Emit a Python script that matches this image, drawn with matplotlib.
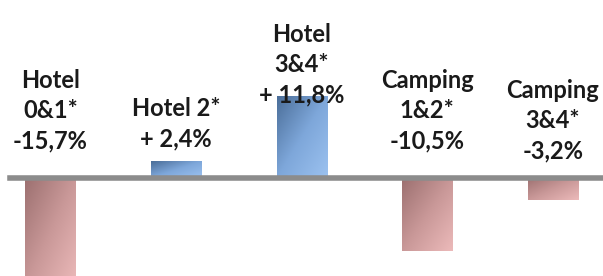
import matplotlib
matplotlib.use("Agg")
import matplotlib.pyplot as plt
import numpy as np
from matplotlib.colors import LinearSegmentedColormap

categories = ["Hotel\n0&1*", "Hotel 2*", "Hotel\n3&4*", "Camping\n1&2*", "Camping\n3&4*"]
values = [-15.7, 2.4, 11.8, -10.5, -3.2]
value_labels = ["-15,7%", "+ 2,4%", "+ 11,8%", "-10,5%", "-3,2%"]
label_bottoms = [3.7, 4.0, 10.3, 3.7, 2.2]  # data-y of label bottom

fig = plt.figure(figsize=(6.03, 2.76), dpi=100)
ax = fig.add_axes([0, 0, 1, 1])
ax.set_xlim(-0.402, 4.399)
ax.set_ylim(-14.1, 25.6)
ax.axis("off")

blue = LinearSegmentedColormap.from_list("b", ["#4a6d98", "#7ea7da", "#9cc2f0"])
red = LinearSegmentedColormap.from_list("r", ["#9c7070", "#c99898", "#ecbaba"])

x = np.arange(len(values))
bars = ax.bar(x, values, width=0.4, color="none", edgecolor="none", zorder=2)
yy, xx = np.mgrid[0:1:100j, 0:1:100j]
grad = (xx + yy) / 2
for b, v in zip(bars, values):
    x0, y0 = b.get_x(), b.get_y()
    w, h = b.get_width(), b.get_height()
    cmap = blue if v > 0 else red
    ylo, yhi = min(y0, y0 + h), max(y0, y0 + h)
    im = ax.imshow(grad, cmap=cmap, extent=[x0, x0 + w, ylo, yhi], origin="upper",
                   aspect="auto", zorder=2, interpolation="bicubic")
    im.set_clip_path(b)

ax.axhline(0, xmin=10 / 603, xmax=1, color="#8c8c8c", linewidth=4, zorder=3)
ax.set_xlim(-0.402, 4.399)
ax.set_ylim(-14.1, 25.6)

for xi, cat, vl, lb in zip(x, categories, value_labels, label_bottoms):
    ax.text(xi, lb, cat + "\n" + vl, ha="center", va="bottom", fontsize=17,
            family="Lato", fontweight="bold", color="#1a1a1a", linespacing=1.38,
            multialignment="center", zorder=4)

fig.savefig("out.png", dpi=100)
